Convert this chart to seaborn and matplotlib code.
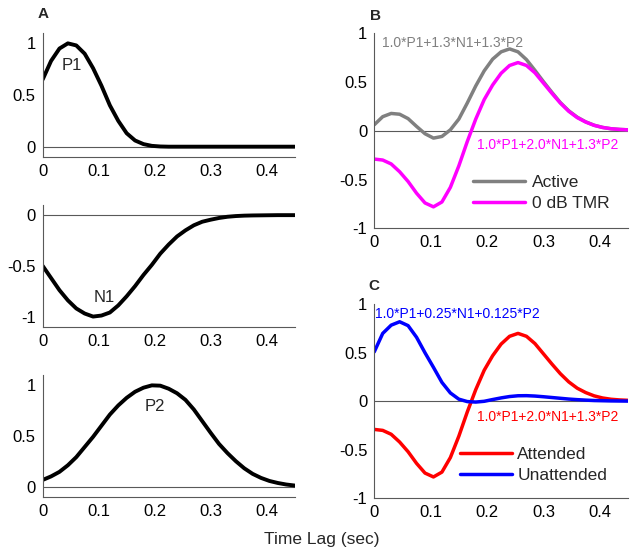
import matplotlib
matplotlib.use("Agg")
import matplotlib.pyplot as plt
import seaborn as sns

# time axis (sec) and curves
time_lag = [0.0, 0.015, 0.03, 0.045, 0.06, 0.075, 0.09, 0.105, 0.12, 0.135,
            0.15, 0.165, 0.18, 0.195, 0.21, 0.225, 0.24, 0.255, 0.27, 0.285,
            0.3, 0.315, 0.33, 0.345, 0.36, 0.375, 0.39, 0.405, 0.42, 0.435, 0.45]

p1 = [0.65, 0.83, 0.95, 1.00, 0.98, 0.90, 0.76, 0.59, 0.40, 0.25,
      0.13, 0.06, 0.025, 0.008, 0.002, 0.0, 0.0, 0.0, 0.0, 0.0,
      0.0, 0.0, 0.0, 0.0, 0.0, 0.0, 0.0, 0.0, 0.0, 0.0, 0.0]
n1 = [-0.50, -0.62, -0.74, -0.84, -0.92, -0.97, -1.00, -0.99, -0.96, -0.89,
      -0.80, -0.70, -0.59, -0.49, -0.38, -0.29, -0.21, -0.15, -0.10, -0.065,
      -0.045, -0.028, -0.016, -0.009, -0.005, -0.003, -0.002, -0.001, 0.0, 0.0, 0.0]
p2 = [0.065, 0.10, 0.145, 0.21, 0.29, 0.39, 0.49, 0.60, 0.71, 0.80,
      0.875, 0.935, 0.975, 0.998, 0.995, 0.965, 0.92, 0.855, 0.76, 0.645,
      0.53, 0.42, 0.33, 0.25, 0.18, 0.125, 0.085, 0.055, 0.035, 0.02, 0.01]

active = [0.062, 0.145, 0.178, 0.17, 0.125, 0.045, -0.03, -0.075, -0.058, 0.01,
          0.12, 0.285, 0.46, 0.615, 0.735, 0.81, 0.84, 0.81, 0.73, 0.62,
          0.505, 0.395, 0.29, 0.205, 0.14, 0.092, 0.057, 0.035, 0.021, 0.014, 0.01]
tmr_0db = [-0.29, -0.30, -0.34, -0.42, -0.52, -0.64, -0.74, -0.78, -0.73, -0.58,
           -0.36, -0.11, 0.12, 0.32, 0.47, 0.59, 0.67, 0.70, 0.67, 0.595,
           0.49, 0.385, 0.285, 0.20, 0.135, 0.09, 0.056, 0.034, 0.021, 0.014, 0.01]
attended = tmr_0db
unattended = [0.51, 0.70, 0.785, 0.82, 0.78, 0.66, 0.50, 0.35, 0.195, 0.086,
              0.022, -0.003, -0.008, 0.0, 0.018, 0.035, 0.049, 0.057, 0.058, 0.054,
              0.047, 0.039, 0.031, 0.023, 0.017, 0.012, 0.008, 0.006, 0.004, 0.003, 0.002]

x_ticks = [0, 0.1, 0.2, 0.3, 0.4]
x_ticklabels = ["0", "0.1", "0.2", "0.3", "0.4"]
pos_ticks, pos_ticklabels = [0, 0.5, 1], ["0", "0.5", "1"]
neg_ticks, neg_ticklabels = [-1, -0.5, 0], ["-1", "-0.5", "0"]
full_ticks = [-1, -0.5, 0, 0.5, 1]
full_ticklabels = ["-1", "-0.5", "0", "0.5", "1"]

sns.set_style("white")
plt.rcParams["font.family"] = ["Liberation Sans", "DejaVu Sans"]

GRAY = "#808080"
MAGENTA = "#ff00ff"
RED = "#ff0000"
BLUE = "#0000ff"


def style_axes(ax, ylim, yticks, yticklabels):
    """MATLAB-like look: left/bottom axis only, ticks pointing in."""
    ax.set_xlim(0, 0.45)
    ax.set_ylim(*ylim)
    ax.set_xticks(x_ticks)
    ax.set_xticklabels(x_ticklabels)
    ax.set_yticks(yticks)
    ax.set_yticklabels(yticklabels)
    for side in ["top", "right"]:
        ax.spines[side].set_visible(False)
    for side in ["left", "bottom"]:
        ax.spines[side].set_color("0.35")
        ax.spines[side].set_linewidth(0.8)
    ax.tick_params(direction="in", length=3, width=0.8, color="0.35",
                   labelsize=12, pad=5, labelcolor="black")
    ax.axhline(0, color="0.35", lw=0.8, zorder=1)
    ax.set_xlabel("")
    ax.set_ylabel("")


fig = plt.figure(figsize=(6.35, 5.56), dpi=100)

# left column: components
ax_p1 = fig.add_axes([0.0672, 0.7176, 0.3968, 0.2230])
sns.lineplot(x=time_lag, y=p1, ax=ax_p1, color="black", lw=2.8)
style_axes(ax_p1, (-0.1, 1.1), pos_ticks, pos_ticklabels)
ax_p1.text(0.052, 0.79, "P1", fontsize=12, ha="center", va="center")

ax_n1 = fig.add_axes([0.0672, 0.4124, 0.3968, 0.2189])
sns.lineplot(x=time_lag, y=n1, ax=ax_n1, color="black", lw=2.8)
style_axes(ax_n1, (-1.1, 0.1), neg_ticks, neg_ticklabels)
ax_n1.text(0.11, -0.81, "N1", fontsize=12, ha="center", va="center")

ax_p2 = fig.add_axes([0.0672, 0.1067, 0.3968, 0.2188])
sns.lineplot(x=time_lag, y=p2, ax=ax_p2, color="black", lw=2.8)
style_axes(ax_p2, (-0.1, 1.1), pos_ticks, pos_ticklabels)
ax_p2.text(0.2, 0.79, "P2", fontsize=12, ha="center", va="center")

# right column: combinations
ax_b = fig.add_axes([0.5894, 0.5894, 0.3995, 0.3507])
sns.lineplot(x=time_lag, y=active, ax=ax_b, color=GRAY, lw=2.5, label="Active")
sns.lineplot(x=time_lag, y=tmr_0db, ax=ax_b, color=MAGENTA, lw=2.5, label="0 dB TMR")
style_axes(ax_b, (-1, 1), full_ticks, full_ticklabels)
ax_b.text(0.013, 0.90, "1.0*P1+1.3*N1+1.3*P2", color=GRAY, fontsize=10,
          ha="left", va="center")
ax_b.text(0.1816, -0.15, "1.0*P1+2.0*N1+1.3*P2", color=MAGENTA, fontsize=10,
          ha="left", va="center")
ax_b.legend(loc="upper left", bbox_to_anchor=(0.389, 0.275), frameon=False,
            fontsize=12.5, handlelength=3.0, handletextpad=0.38,
            labelspacing=0.35, borderpad=0, borderaxespad=0)

ax_c = fig.add_axes([0.5894, 0.1038, 0.3995, 0.3489])
sns.lineplot(x=time_lag, y=attended, ax=ax_c, color=RED, lw=2.5, label="Attended")
sns.lineplot(x=time_lag, y=unattended, ax=ax_c, color=BLUE, lw=2.5, label="Unattended")
style_axes(ax_c, (-1, 1), full_ticks, full_ticklabels)
ax_c.text(0.001, 0.90, "1.0*P1+0.25*N1+0.125*P2", color=BLUE, fontsize=10,
          ha="left", va="center")
ax_c.text(0.1816, -0.16, "1.0*P1+2.0*N1+1.3*P2", color=RED, fontsize=10,
          ha="left", va="center")
ax_c.legend(loc="upper left", bbox_to_anchor=(0.338, 0.265), frameon=False,
            fontsize=12.5, handlelength=3.0, handletextpad=0.3,
            labelspacing=0.35, borderpad=0, borderaxespad=0)

# panel letters and shared x label
fig.text(0.0677, 0.975, "A", fontsize=11, weight="bold", ha="center", va="center")
fig.text(0.591, 0.971, "B", fontsize=11, weight="bold", ha="center", va="center")
fig.text(0.589, 0.486, "C", fontsize=11, weight="bold", ha="center", va="center")
fig.text(0.507, 0.029, "Time Lag (sec)", fontsize=12.5, ha="center", va="center")

fig.savefig("out.png", dpi=100)
